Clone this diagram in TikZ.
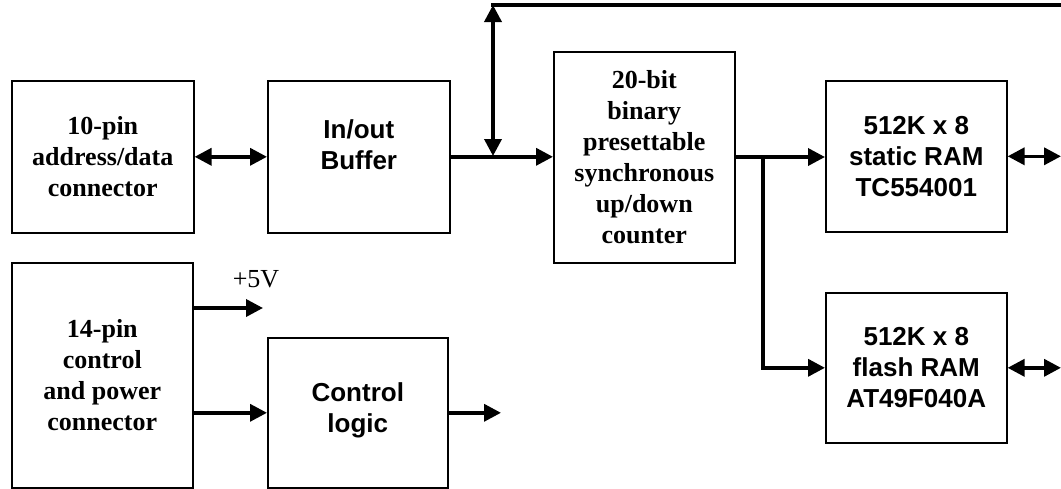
\documentclass[tikz,border=0pt]{standalone}
\usepackage{fontspec}
\setmainfont{Liberation Serif}
\newfontfamily\arialfam{Liberation Sans}
\usetikzlibrary{arrows.meta}
\begin{document}
\begin{tikzpicture}[x=1pt,y=-1pt,
  blk/.style={draw, line width=1.6pt, inner sep=0pt, align=center, anchor=north west},
  serifblk/.style={blk, font=\fontsize{26}{31}\selectfont\bfseries},
  sansblk/.style={blk, font=\fontsize{26}{31}\selectfont\arialfam\bfseries},
  tip/.tip={Triangle[length=17pt,width=17pt]},
  link/.style={line width=3.6pt, -tip},
  duplex/.style={line width=3.6pt, tip-tip},
  bus/.style={line width=3.6pt},
  lbl/.style={font=\fontsize{26}{31}\selectfont, inner sep=0pt, anchor=base}
]
\useasboundingbox (0,0) rectangle (1061,488);

% blocks
\node[serifblk, minimum width=182pt, minimum height=152pt] (adc) at (11,80)
  {10-pin\\address/data\\connector};
\node[sansblk, minimum width=182pt, minimum height=152pt] (buf) at (267,80)
  {In/out\\Buffer\\[-7pt]};
\node[serifblk, minimum width=181pt, minimum height=211pt] (cnt) at (553,51)
  {20-bit\\binary\\presettable\\synchronous\\up/down\\counter};
\node[sansblk, minimum width=181pt, minimum height=151pt] (sram) at (825,80)
  {512K x 8\\static RAM\\TC554001};
\node[sansblk, minimum width=181pt, minimum height=150pt] (flash) at (825,292)
  {512K x 8\\flash RAM\\AT49F040A};
\node[serifblk, minimum width=181pt, minimum height=225pt] (cpc) at (11,262)
  {14-pin\\control\\and power\\connector};
\node[sansblk, minimum width=180pt, minimum height=150pt] (ctl) at (267,337)
  {Control\\logic\\[-21pt]};

% free ends
\coordinate (tap) at (493,156);
\coordinate (bustop) at (493,5);
\coordinate (busend) at (1061,5);
\coordinate (split) at (763,157);
\coordinate (edge) at (1061,0);
\coordinate (pwr) at (263,308);
\coordinate (ctlout) at (501,412);

% address/data path
\draw[duplex] (adc.east) -- (buf.west);
\draw[link] (buf.east) -- (buf.east -| cnt.west);
\draw[duplex] (tap) -- (bustop);
\draw[bus] ([xshift=-1.8pt]bustop) -- (busend);
\draw[link] (cnt.east |- split) -- (split -| sram.west);
\draw[link] (split) |- (flash.west);
\draw[duplex] (sram.east) -- (sram.east -| edge);
\draw[duplex] (flash.east) -- (flash.east -| edge);

% control and power
\draw[link] (cpc.east |- pwr) -- (pwr);
\node[lbl] (v5) at (256,287) {+5V};
\draw[link] (cpc.east |- ctl.west) -- (ctl.west);
\draw[link] (ctl.east) -- (ctl.east -| ctlout);
\end{tikzpicture}
\end{document}
